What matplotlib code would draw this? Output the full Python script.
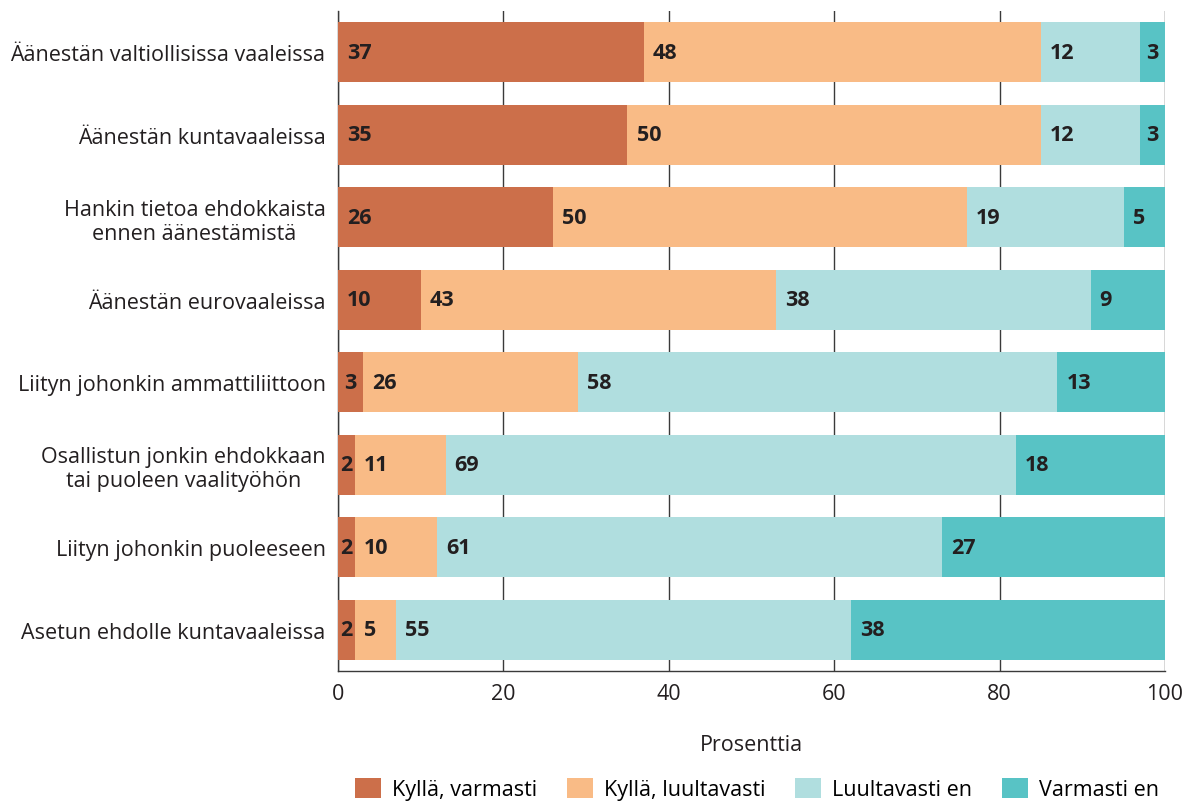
import matplotlib
matplotlib.use("Agg")
import matplotlib.pyplot as plt
import numpy as np

plt.rcParams['font.family'] = ['Open Sans', 'DejaVu Sans']

categories = [
    "Äänestän valtiollisissa vaaleissa",
    "Äänestän kuntavaaleissa",
    "Hankin tietoa ehdokkaista\nennen äänestämistä",
    "Äänestän eurovaaleissa",
    "Liityn johonkin ammattiliittoon",
    "Osallistun jonkin ehdokkaan\ntai puoleen vaalityöhön",
    "Liityn johonkin puoleeseen",
    "Asetun ehdolle kuntavaaleissa",
]
series_names = ["Kyllä, varmasti", "Kyllä, luultavasti", "Luultavasti en", "Varmasti en"]
kylla_varmasti = [37, 35, 26, 10, 3, 2, 2, 2]
kylla_luultavasti = [48, 50, 50, 43, 26, 11, 10, 5]
luultavasti_en = [12, 12, 19, 38, 58, 69, 61, 55]
varmasti_en = [3, 3, 5, 9, 13, 18, 27, 38]
xticks = [0, 20, 40, 60, 80, 100]

colors = ["#CC6F4A", "#F9BB86", "#B0DEDF", "#58C3C5"]
series = [kylla_varmasti, kylla_luultavasti, luultavasti_en, varmasti_en]

FS = 15.5
fig = plt.figure(figsize=(11.84, 8.03), dpi=100)
ax = fig.add_axes([338/1184, 1 - 672/803, (1165-338)/1184, (672-12)/803])

y = np.arange(len(categories))
left = np.zeros(len(categories))
for name, vals, c in zip(series_names, series, colors):
    vals = np.array(vals, dtype=float)
    ax.barh(y, vals, left=left, height=0.73, color=c, label=name, zorder=3)
    for yi, (l, v) in enumerate(zip(left, vals)):
        if v <= 3:
            ax.text(l + v / 2, yi, f"{int(v)}", ha='center', va='center',
                    fontsize=15.5, fontweight='bold', color='#231F20', zorder=4)
        else:
            ax.text(l + 1.1, yi, f"{int(v)}", ha='left', va='center',
                    fontsize=15.5, fontweight='bold', color='#231F20', zorder=4)
    left += vals

ax.set_xlim(0, 100)
ax.set_ylim(len(categories) - 0.5, -0.5)
ax.set_yticks(y)
ax.set_yticklabels(categories, fontsize=FS, color='#231F20', multialignment='center')
ax.set_xticks(xticks)
ax.set_xticklabels([str(t) for t in xticks], fontsize=FS, color='#231F20')
ax.tick_params(axis='y', length=0, pad=9)
ax.tick_params(axis='x', length=0, pad=9)
ax.xaxis.grid(True, color='#3a3a3a', linewidth=1.0, zorder=0)
ax.set_axisbelow(True)
for s in ['top', 'right']:
    ax.spines[s].set_visible(False)
for s in ['left', 'bottom']:
    ax.spines[s].set_color('#3a3a3a')
    ax.spines[s].set_linewidth(1.0)
ax.set_xlabel("Prosenttia", fontsize=FS, color='#231F20', labelpad=21)

handles, labels = ax.get_legend_handles_labels()
fig.legend(handles, labels, loc='center', bbox_to_anchor=(757/1184, 1 - 790/803),
           ncol=4, frameon=False, fontsize=FS, handlelength=1.2, handleheight=1.1,
           columnspacing=1.4, handletextpad=0.5)

fig.savefig("out.png", dpi=100)
